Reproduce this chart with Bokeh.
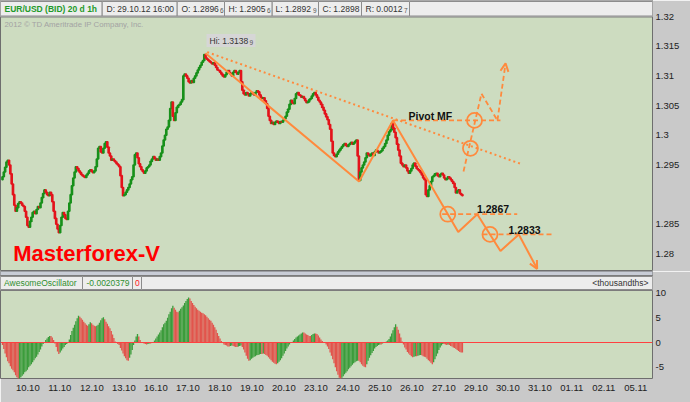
import numpy as np
from bokeh.plotting import figure
from bokeh.layouts import column
from bokeh.models import Range1d, FixedTicker, Label, Arrow, OpenHead, Span, ColumnDataSource
from bokeh.core.properties import value
from bokeh.embed import file_html
from bokeh.resources import INLINE

# ---------------- data ----------------
day_labels = ["10.10", "11.10", "12.10", "13.10", "16.10", "17.10", "18.10", "19.10", "20.10", "23.10",
              "24.10", "25.10", "26.10", "27.10", "29.10", "30.10", "31.10", "01.11", "02.11", "05.11"]

# hourly closes, in pips above 1.2800
first_open_pips = 125
close_pips = [
    130, 138, 146, 155, 158, 150, 135, 118, 100, 82,
    72, 78, 85, 88, 86, 82, 80, 72, 62, 48,
    45, 55, 62, 70, 72, 68, 75, 80, 78, 86,
    95, 102, 108, 104, 100, 98, 104, 100, 88, 72,
    60, 50, 42, 36, 48, 62, 70, 66, 60, 58,
    72, 86, 100, 115, 128, 138, 147, 144, 140, 137,
    134, 132, 130, 129, 133, 136, 140, 142, 139, 137,
    140, 147, 160, 178, 181, 172, 170, 178, 186, 189,
    180, 170, 165, 158, 160, 157, 155, 152, 150, 147,
    132, 112, 98, 100, 104, 108, 112, 118, 125, 130,
    150, 167, 170, 162, 152, 147, 142, 139, 136, 140,
    145, 147, 150, 156, 160, 164, 161, 158, 160, 158,
    164, 170, 182, 192, 200, 210, 214, 225, 245, 256,
    232, 225, 238, 247, 250, 252, 256, 260, 300, 303,
    300, 296, 290, 288, 292, 289, 296, 300, 305, 310,
    314, 318, 323, 326, 336, 330, 328, 326, 324, 322,
    320, 322, 318, 314, 310, 309, 306, 303, 300, 298,
    302, 306, 309, 305, 303, 300, 306, 309, 306, 303,
    306, 309, 290, 276, 270, 268, 272, 270, 266, 270,
    272, 270, 268, 272, 275, 273, 268, 264, 262, 263,
    258, 253, 245, 232, 225, 220, 222, 218, 222, 224,
    222, 220, 223, 222, 225, 228, 232, 239, 244, 252,
    259, 255, 253, 262, 270, 272, 268, 267, 264, 265,
    262, 258, 255, 256, 260, 262, 266, 270, 272, 268,
    264, 259, 256, 252, 247, 242, 236, 231, 226, 218,
    210, 190, 170, 166, 164, 168, 172, 175, 178, 181,
    184, 186, 183, 181, 184, 186, 188, 185, 187, 190,
    192, 165, 124, 138, 145, 150, 155, 162, 170, 168,
    165, 168, 170, 166, 172, 175, 173, 170, 172, 174,
    178, 181, 186, 192, 200, 206, 209, 220, 212, 205,
    196, 185, 175, 165, 153, 150, 147, 150, 145, 140,
    136, 140, 144, 150, 153, 148, 144, 142, 140, 137,
    133, 128, 125, 100, 97, 108, 115, 122, 130, 132,
    135, 136, 132, 130, 134, 136, 133, 128, 125, 127,
    130, 128, 125, 122, 119, 112, 103, 106, 108, 102, 100, 98,
]

# Awesome Oscillator, thousandths
ao_thousandths = [
    -0.5, -1.3, -2.2, -3.0, -3.8, -4.2, -4.8, -5.3, -5.6, -6.0,
    -6.6, -7.0, -7.4, -7.3, -7.0, -6.7, -6.4, -6.0, -5.8, -5.5,
    -5.0, -4.7, -4.4, -4.0, -3.6, -3.2, -2.9, -2.4, -1.9, -1.4,
    -0.8, -0.3, 0.1, 0.5, 0.8, 1.1, 1.3, 1.3, 1.0, 0.5,
    -0.2, -0.9, -1.8, -2.3, -2.0, -1.6, -1.2, -0.9, -0.5, -0.3,
    0.0, 0.6, 1.5, 2.3, 3.0, 3.6, 4.3, 4.9, 5.4, 5.2,
    4.9, 4.6, 4.2, 3.9, 3.6, 3.4, 3.7, 4.1, 3.9, 3.6,
    3.4, 3.3, 3.4, 3.6, 4.0, 4.5, 4.9, 5.1, 4.7, 4.2,
    3.8, 3.3, 2.9, 2.3, 1.6, 0.9, 0.2, -0.1, -0.3, -0.5,
    -1.1, -1.6, -2.2, -2.8, -3.2, -3.6, -3.7, -3.1, -2.4, -1.5,
    -0.5, 0.4, 1.2, 1.7, 1.2, 0.5, 0.1, -0.1, -0.2, -0.3,
    -0.4, -0.3, -0.2, -0.2, -0.1, 0.1, 0.4, 0.8, 1.2, 1.6,
    2.0, 2.5, 3.1, 3.7, 4.0, 4.4, 5.0, 5.7, 6.2, 6.9,
    7.4, 7.0, 6.6, 6.2, 6.1, 6.4, 6.8, 7.1, 7.5, 8.0,
    8.4, 8.8, 9.1, 8.9, 8.4, 8.0, 7.6, 7.2, 6.9, 6.6,
    6.4, 6.2, 6.0, 5.9, 5.7, 5.5, 5.2, 4.9, 4.6, 4.4,
    4.0, 3.6, 3.1, 2.6, 1.9, 1.3, 0.8, 0.3, -0.1, -0.4,
    -0.5, -0.6, -0.8, -0.8, -0.7, -0.6, -0.7, -0.8, -0.9, -0.9,
    -0.8, -0.7, -0.6, -0.9, -1.4, -2.0, -2.7, -3.3, -3.7, -3.6,
    -3.3, -3.1, -2.9, -2.8, -2.6, -2.5, -2.4, -2.3, -2.3, -2.2,
    -2.3, -2.5, -2.7, -3.0, -3.3, -3.6, -3.9, -4.1, -4.3, -4.4,
    -4.2, -3.9, -3.6, -3.2, -2.7, -2.2, -1.7, -1.2, -0.8, -0.4,
    -0.1, 0.1, 0.4, 0.7, 1.0, 1.2, 1.4, 1.6, 1.8, 2.0,
    2.0, 1.8, 1.6, 1.5, 1.3, 1.3, 1.5, 1.7, 1.8, 1.8,
    1.7, 1.4, 1.0, 0.6, 0.3, 0.1, -0.1, -0.4, -0.8, -1.3,
    -2.0, -2.7, -3.4, -4.2, -5.0, -5.8, -6.5, -7.1, -7.4, -7.1,
    -6.8, -6.4, -6.1, -5.8, -5.4, -5.1, -4.8, -4.5, -4.2, -4.0,
    -3.8, -3.7, -3.7, -4.0, -4.4, -4.7, -4.9, -5.0, -4.4, -3.7,
    -3.1, -2.6, -2.1, -1.7, -1.2, -0.9, -0.7, -0.5, -0.4, -0.4,
    -0.2, -0.1, 0.0, 0.2, 0.4, 0.7, 1.2, 1.8, 2.5, 3.1,
    3.7, 3.2, 2.6, 1.8, 1.0, 0.2, -0.4, -1.0, -1.4, -1.9,
    -2.2, -2.5, -2.8, -3.0, -2.9, -2.8, -2.8, -2.7, -2.6, -2.5,
    -2.6, -2.8, -2.9, -3.0, -3.3, -3.6, -3.8, -4.1, -4.4, -4.0,
    -3.4, -2.8, -2.2, -1.5, -1.0, -0.6, -0.3, -0.3, -0.4, -0.5,
    -0.4, -0.5, -0.7, -0.8, -1.0, -1.1, -1.3, -1.5, -1.7, -1.9, -2.0, -2.04,
]

price_ticks = [1.28, 1.285, 1.295, 1.30, 1.305, 1.31, 1.315, 1.32]
price_tick_labels = ["1.28", "1.285", "1.295", "1.3", "1.305", "1.31", "1.315", "1.32"]
ao_ticks = [-5, 0, 5, 10]
ao_tick_labels = ["-5", "0", "5", "10"]

last_price = 1.2898
last_price_label = "1.2898"
last_ao = -2.0378
last_ao_label = "-2.0378"

header_fields = ["EUR/USD (BID) 20 d 1h", "D: 29.10.12 16:00", "O: 1.2896", "H: 1.2905",
                 "L: 1.2892", "C: 1.2898", "R: 0.0012"]
header_small = ["", "", "6", "6", "9", "", "7"]
osc_fields = ["AwesomeOscillator", "-0.0020379", "0"]

# Masterforex-V projection drawn on the chart (bar index, price)
wave_bar = [154.9, 272.1, 298.0, 347.8, 362.3, 380.0, 394.0]
wave_price = [1.3138, 1.2922, 1.3025, 1.2837, 1.2867, 1.2805, 1.2833]
wave_end_bar, wave_end_price = 408.0, 1.2775
trend_bar = [156.2, 395.3]
trend_price = [1.3140, 1.2952]
pivot_bar = [298.0, 380.0]
pivot_price = 1.3025
lvl1_bar = [335.5, 392.8]
lvl1_price = 1.2867
lvl2_bar = [366.3, 419.7]
lvl2_price = 1.2833
alt_bar = [351.8, 365.5, 377.7]
alt_price = [1.2939, 1.3070, 1.3025]
alt_end_bar, alt_end_price = 383.9, 1.3121
circle_bar = [339.8, 372.0, 357.1, 360.2]
circle_price = [1.2867, 1.2833, 1.2978, 1.3025]

# ---------------- layout helpers ----------------
ORANGE = "#ff8a3d"
BG = "#cddcc0"
PANEL = "#c9c9c9"
FONT = "Liberation Sans"
W, RB = 690, 38
TOP_H, BOT_H, XAX_H = 271, 131, 24


def bx(xr):   # pixel x -> bar units
    return (xr - 2.0) / 1.3104


def py(yr):   # pixel y (top panel) -> price
    return 1.32 - (yr - 16.0) / 5937.5


def ay(yr):   # pixel y (bottom panel, page coords) -> AO units
    return (342.0 - yr) / 4.95


xrange_ = Range1d(bx(0), bx(652))


def style_axis(ax, ticks, labels):
    ax.ticker = FixedTicker(ticks=ticks)
    ax.major_label_overrides = {t: l for t, l in zip(ticks, labels)}
    ax.axis_line_color = None
    ax.major_tick_out = 0
    ax.major_tick_in = 0
    ax.minor_tick_out = 0
    ax.minor_tick_in = 0
    ax.major_label_standoff = 3
    ax.major_label_text_font = FONT
    ax.major_label_text_font_size = "9.5px"
    ax.major_label_text_color = "#222222"


def txt(fig, x, y, s, size="8.5px", color="#333333", bold=False, align="left", baseline="middle"):
    fig.text(x=[x], y=[y], text=[s], text_font=value(FONT), text_font_size=size,
             text_color=color, text_font_style="bold" if bold else "normal",
             text_align=align, text_baseline=baseline)


# ---------------- price panel ----------------
p = figure(width=W, height=TOP_H, x_range=xrange_, y_range=Range1d(py(271), py(0)),
           output_backend="svg", toolbar_location=None, x_axis_location=None,
           y_axis_location="right", min_border_left=0, min_border_right=RB,
           min_border_top=0, min_border_bottom=0, background_fill_color=BG,
           border_fill_color=PANEL, outline_line_color="#6e6e6e")
p.grid.visible = False
style_axis(p.yaxis[0], price_ticks, price_tick_labels)

n = len(close_pips)
idx = np.arange(n)
close = 1.28 + np.array(close_pips) / 10000.0
open_ = np.concatenate([[1.28 + first_open_pips / 10000.0], close[:-1]])
ccol = np.where(close >= open_, "#17901a", "#e3131b")
src = ColumnDataSource(dict(x=idx, top=np.maximum(open_, close), bottom=np.minimum(open_, close), color=ccol))
p.vbar(x="x", width=0.8, top="top", bottom="bottom", fill_color="color", line_color="color",
       line_width=1.6, source=src)

# header bar
p.quad(left=bx(0) - 1, right=bx(652) + 1, bottom=py(16.5), top=py(-2), fill_color="#e4e4e4",
       line_color="#7c7c7c", line_width=1)
box_edges = [0, 101.7, 176.7, 224, 271.7, 318, 361, 409, 652]
p.quad(left=[bx(a) for a in box_edges[:-1]], right=[bx(b) for b in box_edges[1:]],
       bottom=py(15.5), top=py(1), fill_color="#ededed", line_color="#8c8c8c", line_width=1)
field_x = [4, 106, 181, 228, 275, 322, 365]
small_x = [0, 0, 219.5, 266.5, 312.5, 0, 403.5]
for i, s in enumerate(header_fields):
    if i == 0:
        txt(p, bx(field_x[i]), py(8.5), s, color="#1f9a2a", bold=True)
    else:
        txt(p, bx(field_x[i]), py(8.5), s)
    if header_small[i]:
        txt(p, bx(small_x[i]), py(10), header_small[i], size="6.5px", color="#555555")

txt(p, bx(4), py(23.5), "2012 \u00a9 TD Ameritrade IP Company, Inc.", size="7.8px", color="#a3a3a3")

# Hi label
p.quad(left=bx(206), right=bx(255), bottom=py(46.5), top=py(33.5), fill_color="#d6d6d6", line_color=None)
txt(p, bx(209), py(40), "Hi: 1.3138", color="#333333")
txt(p, bx(249), py(41.5), "9", size="6.5px", color="#555555")

# projection lines
p.line(trend_bar, trend_price, line_color=ORANGE, line_width=2, line_dash="2 3")
p.line(wave_bar, wave_price, line_color=ORANGE, line_width=2)
p.add_layout(Arrow(end=OpenHead(size=8, line_color=ORANGE, line_width=2),
                   x_start=wave_bar[-1], y_start=wave_price[-1], x_end=wave_end_bar, y_end=wave_end_price,
                   line_color=ORANGE, line_width=2))
p.line(pivot_bar, [pivot_price, pivot_price], line_color=ORANGE, line_width=1.8, line_dash="5 3")
p.line(lvl1_bar, [lvl1_price, lvl1_price], line_color=ORANGE, line_width=1.8, line_dash="5 3")
p.line(lvl2_bar, [lvl2_price, lvl2_price], line_color=ORANGE, line_width=1.8, line_dash="5 3")
p.line(alt_bar, alt_price, line_color=ORANGE, line_width=1.8, line_dash="5 3")
p.add_layout(Arrow(end=OpenHead(size=8, line_color=ORANGE, line_width=2),
                   x_start=alt_bar[-1], y_start=alt_price[-1], x_end=alt_end_bar, y_end=alt_end_price,
                   line_color=ORANGE, line_width=1.8, line_dash="5 3"))
p.scatter(circle_bar, circle_price, marker="circle", size=15, fill_color=None,
          line_color=ORANGE, line_width=1.8)

txt(p, bx(408), py(115.5), "Pivot MF", size="10.5px", color="#111111", bold=True)
txt(p, bx(476.5), py(208.5), "1.2867", size="10.5px", color="#111111", bold=True)
txt(p, bx(508), py(229), "1.2833", size="10.5px", color="#111111", bold=True)

p.text(x=[bx(12.7)], y=[py(253)], text=["Masterforex-V"], text_font=value(FONT),
       text_font_size="22px", text_font_style="bold", text_color="#ff0000",
       text_baseline="middle", text_align="left")

p.add_layout(Label(x=bx(655), y=last_price, text=last_price_label, text_font=FONT,
                   text_font_size="9.5px", text_color="white", text_baseline="middle",
                   text_align="left", background_fill_color="#1b8a1b", padding=2))

# ---------------- oscillator panel ----------------
q = figure(width=W, height=BOT_H, x_range=xrange_, y_range=Range1d(ay(378), ay(271)),
           output_backend="svg", toolbar_location=None, x_axis_location="below",
           y_axis_location="right", min_border_left=0, min_border_right=RB,
           min_border_top=0, min_border_bottom=XAX_H, background_fill_color=BG,
           border_fill_color=PANEL, outline_line_color="#6e6e6e")
q.grid.visible = False
style_axis(q.yaxis[0], ao_ticks, ao_tick_labels)

day_ticks = [round(bx(27.3 + 32.0 * d), 2) for d in range(len(day_labels))]
style_axis(q.xaxis[0], day_ticks, day_labels)
q.xaxis[0].major_label_standoff = 6

ao = np.array(ao_thousandths)
rising = np.concatenate([[False], ao[1:] > ao[:-1]])
acol = np.where(rising, "#3b9c3b", "#e2544c")
q.vbar(x=np.arange(len(ao)), width=1.0, top=ao, bottom=0, fill_color=acol, line_color=None)
q.add_layout(Span(location=0, dimension="width", line_color="#ff4040", line_width=1.2))

# separator and oscillator header
q.quad(left=bx(0) - 1, right=bx(652) + 1, bottom=ay(275), top=ay(269), fill_color="#c8ccd6",
       line_color="#5e5e5e", line_width=1)
q.quad(left=bx(0) - 1, right=bx(652) + 1, bottom=ay(290), top=ay(275), fill_color="#e4e4e4",
       line_color="#7c7c7c", line_width=1)
osc_edges = [0, 82, 132, 141, 652]
q.quad(left=[bx(a) for a in osc_edges[:-1]], right=[bx(b) for b in osc_edges[1:]],
       bottom=ay(289), top=ay(276), fill_color="#ededed", line_color="#8c8c8c", line_width=1)
txt(q, bx(3.5), ay(282.5), osc_fields[0], color="#2f8f2f")
txt(q, bx(86), ay(282.5), osc_fields[1], color="#2f8f2f")
txt(q, bx(134.5), ay(282.5), osc_fields[2], color="#ff2020")
txt(q, bx(648), ay(282.5), "<thousandths>", color="#333333", align="right")

q.add_layout(Label(x=bx(655), y=last_ao, text=last_ao_label, text_font=FONT,
                   text_font_size="9.5px", text_color="white", text_baseline="middle",
                   text_align="left", background_fill_color="#1b8a1b", padding=2))

layout = column(p, q, spacing=0)
open("out.html", "w").write(file_html(layout, INLINE))
